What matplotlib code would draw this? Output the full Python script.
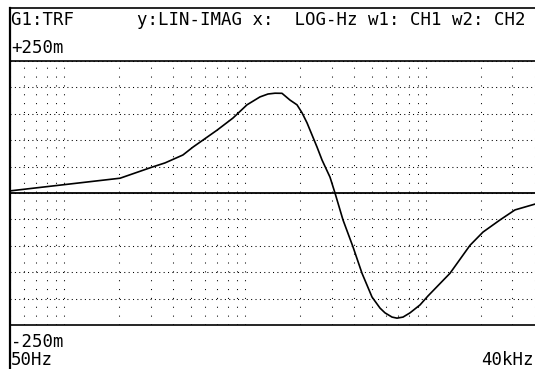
import matplotlib
matplotlib.use("Agg")
import matplotlib.pyplot as plt
from matplotlib.lines import Line2D
from matplotlib.ticker import LogLocator, NullFormatter

# transfer function, imaginary part
freq_hz = [50, 203, 305, 360, 452, 514, 698, 855, 1022, 1206, 1336, 1460, 1596,
           1767, 1932, 2059, 2194, 2493, 2657, 2941, 3134, 3470, 3941, 4420, 5021,
           5560, 5924, 6477, 6902, 7452, 8144, 9250, 10240, 13555, 17490, 20630,
           25620, 31010, 40000]
imag_part = [0.004, 0.028, 0.049, 0.057, 0.072, 0.087, 0.119, 0.142, 0.167, 0.182,
             0.1875, 0.189, 0.1888, 0.176, 0.167, 0.152, 0.133, 0.087, 0.0625, 0.030,
             0.0, -0.051, -0.102, -0.152, -0.197, -0.218, -0.227, -0.235, -0.237,
             -0.235, -0.227, -0.212, -0.195, -0.152, -0.099, -0.074, -0.051, -0.032,
             -0.021]

header = "G1:TRF      y:LIN-IMAG x:  LOG-Hz w1: CH1 w2: CH2"
y_top_label = "+250m"
y_bottom_label = "-250m"
x_left_label = "50Hz"
x_right_label = "40kHz"

W, H = 535, 369
fig = plt.figure(figsize=(W / 100, H / 100), dpi=100)

# plot area in pixels: x 10..535, y 61..325
ax = fig.add_axes([10 / W, 1 - 325 / H, 525 / W, 264 / H])
ax.set_xscale("log")
ax.set_xlim(50, 40000)
ax.set_ylim(-0.25, 0.25)

# grid: log minor decades on x, 50m steps on y
ax.xaxis.set_major_locator(LogLocator(base=10, subs=range(1, 10)))
ax.xaxis.set_minor_locator(LogLocator(base=10, subs=[]))
ax.xaxis.set_major_formatter(NullFormatter())
ax.set_yticks([-0.25 + 0.05 * i for i in range(11)])
ax.tick_params(length=0, labelbottom=False, labelleft=False)
ax.xaxis.grid(True, color="black", linewidth=0.75, linestyle=(0, (1, 7.5)))
ax.yaxis.grid(True, color="black", linewidth=0.75, linestyle=(0, (1, 3.2)))
ax.set_axisbelow(True)

ax.axhline(0, color="black", linewidth=1.3)
ax.plot(freq_hz, imag_part, color="black", linewidth=1.2)

for side in ["top", "bottom"]:
    ax.spines[side].set_linewidth(1.2)
ax.spines["left"].set_visible(False)
ax.spines["right"].set_visible(False)

# outer screen frame
fig.add_artist(Line2D([10 / W, 1], [1 - 8 / H, 1 - 8 / H], color="black", linewidth=1.2,
                      transform=fig.transFigure))
fig.add_artist(Line2D([10 / W, 10 / W], [1 - 8 / H, 0], color="black", linewidth=1.6,
                      transform=fig.transFigure))

font = dict(family="DejaVu Sans Mono", fontsize=12.5, va="baseline")
fig.text(11 / W, 1 - 25 / H, header, ha="left", **font)
fig.text(11 / W, 1 - 53 / H, y_top_label, ha="left", **font)
fig.text(11 / W, 1 - 347 / H, y_bottom_label, ha="left", **font)
fig.text(11 / W, 1 - 365 / H, x_left_label, ha="left", **font)
fig.text(534 / W, 1 - 365 / H, x_right_label, ha="right", **font)

fig.savefig("out.png", dpi=100)
